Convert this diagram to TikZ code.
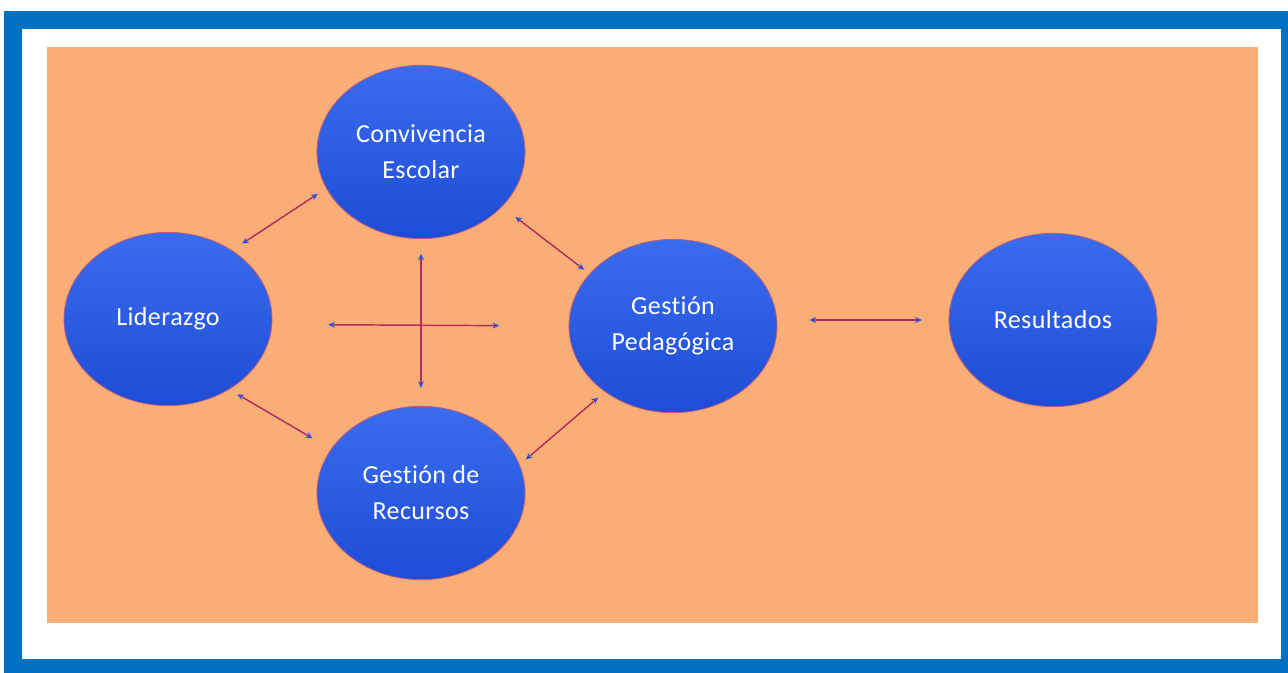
\documentclass[tikz,border=0pt]{standalone}
\usepackage{fontspec}
\setmainfont{Carlito}[Ligatures=NoCommon,LetterSpace=1.5]
\usetikzlibrary{shapes.geometric,arrows.meta}
\definecolor{frameblue}{HTML}{0070C0}
\definecolor{bgorange}{HTML}{F9AE78}
\definecolor{blobtop}{HTML}{3A6CEE}
\definecolor{blobbot}{HTML}{1E4CD6}
\definecolor{linkred}{HTML}{B0305C}
\definecolor{tipblue}{HTML}{2A50E8}
\begin{document}
\begin{tikzpicture}[x=0.75pt,y=-0.75pt,
  blob/.style={ellipse,draw=linkred!80,line width=.6pt,top color=blobtop,bottom color=blobbot,
    minimum width=156pt,minimum height=130pt,inner sep=0pt,text=white,align=center,
    font=\fontsize{19.5}{27}\selectfont},
  link/.style={draw=linkred,line width=1.1pt,
    {Stealth[length=5pt,width=4.5pt,color=tipblue]}-{Stealth[length=5pt,width=4.5pt,color=tipblue]}}]
  \useasboundingbox (0,0) rectangle (1288,673);
  % frame and background
  \fill[frameblue] (4,11) rectangle (1288,673);
  \fill[white] (22,29) rectangle (1281,659);
  \fill[bgorange] (47,47) rectangle (1258,623);
  % ellipses
  \node[blob] (lid) at (168,319) {Liderazgo};
  \node[blob] (conv) at (421,152) {Convivencia\\Escolar};
  \node[blob] (rec) at (421,493) {Gestión de\\Recursos};
  \node[blob] (gp) at (673,326) {Gestión\\Pedagógica};
  \node[blob] (res) at (1053,320) {Resultados};
  % links
  \draw[link,shorten <=9pt,shorten >=7.5pt] (lid.47) -- (conv.201);
  \draw[link,shorten <=12.5pt,shorten >=5pt] (conv.-34) -- (gp.148);
  \draw[link,shorten <=7pt,shorten >=16pt] (lid.-49) -- (rec.154);
  \draw[link,shorten <=6pt,shorten >=6.5pt] (rec.16) -- (gp.224);
  \draw[link,shorten <=11pt,shorten >=13.5pt] (conv.south) -- (rec.north);
  \draw[link,shorten <=42pt,shorten >=52pt] (lid.-3) -- (gp.west);
  \draw[link,shorten <=24pt,shorten >=20pt] (gp.east |- res.west) -- (res.west);
\end{tikzpicture}
\end{document}
